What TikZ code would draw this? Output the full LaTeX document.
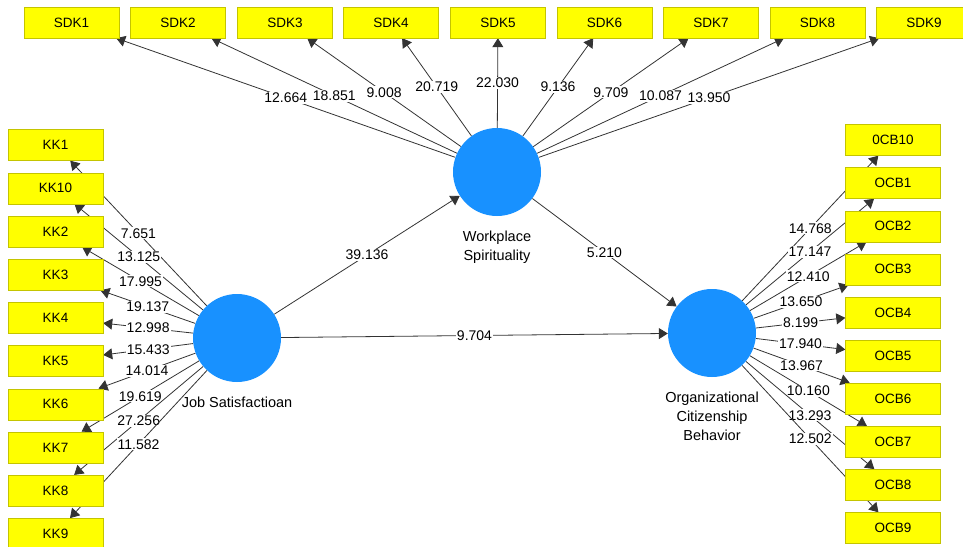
\documentclass[tikz,border=0pt]{standalone}
\usepackage{fontspec}
\setmainfont{Liberation Sans}
\usetikzlibrary{arrows.meta,positioning,backgrounds}
\definecolor{indfill}{RGB}{255,255,0}
\definecolor{indline}{RGB}{196,196,0}
\definecolor{lvfill}{RGB}{24,145,255}
\tikzset{
  ind/.style={draw=indline, fill=indfill, minimum width=95pt, minimum height=31pt,
    inner sep=0pt, font=\fontsize{13.5}{16}\selectfont},
  lv/.style={circle, fill=lvfill, minimum size=88pt, inner sep=0pt},
  lvname/.style={font=\fontsize{14.5}{19}\selectfont, align=center, inner sep=0pt},
  rel/.style={-{Triangle[length=9pt,width=11pt]}, line width=0.8pt, draw=black!80},
  wt/.style={fill=white, inner sep=1pt, font=\fontsize{14}{16}\selectfont}
}
\begin{document}
\begin{tikzpicture}[x=1pt,y=-1pt]
  \useasboundingbox (0,0) rectangle (963,546);
  \draw
    (71.5,22.5) node[ind] (sdk1){SDK1}
    (178,22.5) node[ind] (sdk2){SDK2}
    (285,22.5) node[ind] (sdk3){SDK3}
    (391,22.5) node[ind] (sdk4){SDK4}
    (498,22.5) node[ind] (sdk5){SDK5}
    (604.5,22.5) node[ind] (sdk6){SDK6}
    (711,22.5) node[ind] (sdk7){SDK7}
    (817.5,22.5) node[ind] (sdk8){SDK8}
    (924,22.5) node[ind] (sdk9){SDK9};
  \draw
    (55.5,145) node[ind] (kk1){KK1}
    (55.5,188.2) node[ind] (kk10){KK10}
    (55.5,231.4) node[ind] (kk2){KK2}
    (55.5,274.6) node[ind] (kk3){KK3}
    (55.5,317.8) node[ind] (kk4){KK4}
    (55.5,361) node[ind] (kk5){KK5}
    (55.5,404.2) node[ind] (kk6){KK6}
    (55.5,447.4) node[ind] (kk7){KK7}
    (55.5,490.6) node[ind] (kk8){KK8}
    (55.5,533.8) node[ind] (kk9){KK9};
  \draw
    (893,140) node[ind] (ocb10){0CB10}
    (893,183.1) node[ind] (ocb1){OCB1}
    (893,226.2) node[ind] (ocb2){OCB2}
    (893,269.3) node[ind] (ocb3){OCB3}
    (893,312.4) node[ind] (ocb4){OCB4}
    (893,355.5) node[ind] (ocb5){OCB5}
    (893,398.6) node[ind] (ocb6){OCB6}
    (893,441.7) node[ind] (ocb7){OCB7}
    (893,484.8) node[ind] (ocb8){OCB8}
    (893,528) node[ind] (ocb9){OCB9};
  \node[lv] (ws) at (497,172) {};
  \node[lv] (js) at (237,338) {};
  \node[lv] (ocb) at (712,333) {};
  \node[lvname, below=15pt of ws] (wsname) {Workplace\\Spirituality};
  \node[lvname, below=15pt of js] (jsname) {Job Satisfactioan};
  \node[lvname, below=15pt of ocb] (ocbname) {Organizational\\Citizenship\\Behavior};
  \begin{pgfonlayer}{background}
  \begin{scope}[rel]
    % inner model
    \draw (js) to node[wt]{39.136} (ws);
    \draw (ws) to node[wt]{5.210} (ocb);
    \draw (js) to node[wt]{9.704} (ocb);
    % workplace spirituality
    \draw (ws) to node[wt]{12.664} (sdk1);
    \draw (ws) to node[wt]{18.851} (sdk2);
    \draw (ws) to node[wt]{9.008} (sdk3);
    \draw (ws) to node[wt]{20.719} (sdk4);
    \draw (ws) to node[wt]{22.030} (sdk5);
    \draw (ws) to node[wt]{9.136} (sdk6);
    \draw (ws) to node[wt]{9.709} (sdk7);
    \draw (ws) to node[wt]{10.087} (sdk8);
    \draw (ws) to node[wt]{13.950} (sdk9);
    % job satisfaction
    \draw (js) to node[wt]{7.651} (kk1);
    \draw (js) to node[wt]{13.125} (kk10);
    \draw (js) to node[wt]{17.995} (kk2);
    \draw (js) to node[wt]{19.137} (kk3);
    \draw (js) to node[wt]{12.998} (kk4);
    \draw (js) to node[wt]{15.433} (kk5);
    \draw (js) to node[wt]{14.014} (kk6);
    \draw (js) to node[wt]{19.619} (kk7);
    \draw (js) to node[wt]{27.256} (kk8);
    \draw (js) to node[wt]{11.582} (kk9);
    % ocb
    \draw (ocb) to node[wt]{14.768} (ocb10);
    \draw (ocb) to node[wt]{17.147} (ocb1);
    \draw (ocb) to node[wt]{12.410} (ocb2);
    \draw (ocb) to node[wt]{13.650} (ocb3);
    \draw (ocb) to node[wt]{8.199} (ocb4);
    \draw (ocb) to node[wt]{17.940} (ocb5);
    \draw (ocb) to node[wt]{13.967} (ocb6);
    \draw (ocb) to node[wt]{10.160} (ocb7);
    \draw (ocb) to node[wt]{13.293} (ocb8);
    \draw (ocb) to node[wt]{12.502} (ocb9);
  \end{scope}
  \end{pgfonlayer}
\end{tikzpicture}
\end{document}
